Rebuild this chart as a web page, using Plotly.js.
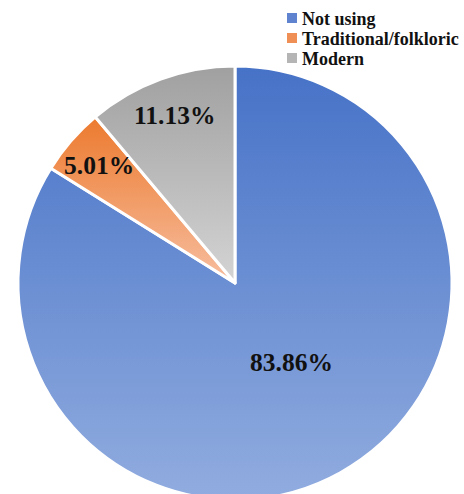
<!DOCTYPE html>
<html>
<head>
<meta charset="utf-8">
<script src="https://cdn.plot.ly/plotly-3.0.1.min.js"></script>
<style>
html,body{margin:0;padding:0;overflow:hidden;background:#fff;}
#chart{width:464px;height:506px;}
</style>
</head>
<body>
<div id="chart"></div>
<script>
const categories = ["Not using", "Traditional/folkloric", "Modern"];
const shares = [83.86, 5.01, 11.13];
const labelsText = ["83.86%", "5.01%", "11.13%"];

const solidColors = ["#5f83cf", "#f08f55", "#b5b5b5"];
const gradStops = [["#4672c7", "#91acdf"], ["#ec7a2e", "#f7bea0"], ["#a0a0a0", "#d4d4d4"]];

const W = 464, H = 506;
const cx = 235, cy = 283, R = 217;
const labelRadius = [0.45, 0.83, 0.82];
const labelAngleShift = [-6, 0, 0];
const fontFam = "Liberation Serif";

const trace = {
  type: "pie",
  labels: categories,
  values: shares,
  textinfo: "none",
  sort: false,
  direction: "clockwise",
  rotation: 0,
  marker: {colors: solidColors, line: {color: "#ffffff", width: 3}},
  domain: {x: [(cx - R)/W, (cx + R)/W], y: [1 - (cy + R)/H, 1 - (cy - R)/H]},
  hoverinfo: "none"
};

const total = shares.reduce((a, b) => a + b, 0);
let cum = 0;
const annotations = shares.map(function(v, i){
  const mid = (cum + v/2) / total * 2 * Math.PI + labelAngleShift[i] * Math.PI / 180;
  cum += v;
  const px = cx + labelRadius[i] * R * Math.sin(mid);
  const py = cy - labelRadius[i] * R * Math.cos(mid);
  return {
    x: px / W, y: 1 - py / H, xref: "paper", yref: "paper",
    text: labelsText[i], showarrow: false, xanchor: "center", yanchor: "middle",
    font: {family: fontFam, size: 25.5, color: "#111111", weight: "bold"}
  };
});

const layout = {
  width: W, height: H,
  margin: {l: 0, r: 0, t: 0, b: 0},
  paper_bgcolor: "#ffffff",
  showlegend: true,
  annotations: annotations,
  legend: {
    x: 262/W, y: 1, xanchor: "left", yanchor: "top",
    font: {family: fontFam, size: 18, color: "#111111", weight: "bold"},
    tracegroupgap: 0, itemsizing: "constant", traceorder: "normal",
    bgcolor: "rgba(0,0,0,0)"
  }
};

Plotly.newPlot("chart", [trace], layout, {staticPlot: true}).then(function(gd){
  const svg = gd.querySelector("svg.main-svg");
  const ns = "http://www.w3.org/2000/svg";
  let defs = svg.querySelector("defs");
  if (!defs) { defs = document.createElementNS(ns, "defs"); svg.insertBefore(defs, svg.firstChild); }
  gradStops.forEach(function(st, i){
    const g = document.createElementNS(ns, "linearGradient");
    g.setAttribute("id", "pg" + i);
    g.setAttribute("x1", "0"); g.setAttribute("y1", "0");
    g.setAttribute("x2", "0"); g.setAttribute("y2", "1");
    [[0, st[0]], [1, st[1]]].forEach(function(s){
      const stop = document.createElementNS(ns, "stop");
      stop.setAttribute("offset", s[0]);
      stop.setAttribute("stop-color", s[1]);
      g.appendChild(stop);
    });
    defs.appendChild(g);
  });
  const paths = gd.querySelectorAll(".pielayer .slice path.surface");
  paths.forEach(function(p, i){ p.style.fill = "url(#pg" + i + ")"; });

  // tighten legend row spacing and move symbols closer to text, like the original
  const legendG = gd.querySelector(".legend");
  const scroll = legendG ? legendG.getBoundingClientRect() : null;
  const items = gd.querySelectorAll(".legend .traces");
  items.forEach(function(it, i){
    it.setAttribute("transform", "translate(0," + (i * 20) + ")");
    const pts = it.querySelector(".legendpoints");
    if (pts) pts.setAttribute("transform", "translate(10,0)");
  });
  // place first row so its centre sits at y≈18 px
  if (items.length) {
    const r = items[0].getBoundingClientRect();
    const dy = 18 - (r.top + r.height / 2);
    items.forEach(function(it, i){
      it.setAttribute("transform", "translate(0," + (i * 20 + dy) + ")");
    });
  }
});
</script>
</body>
</html>
